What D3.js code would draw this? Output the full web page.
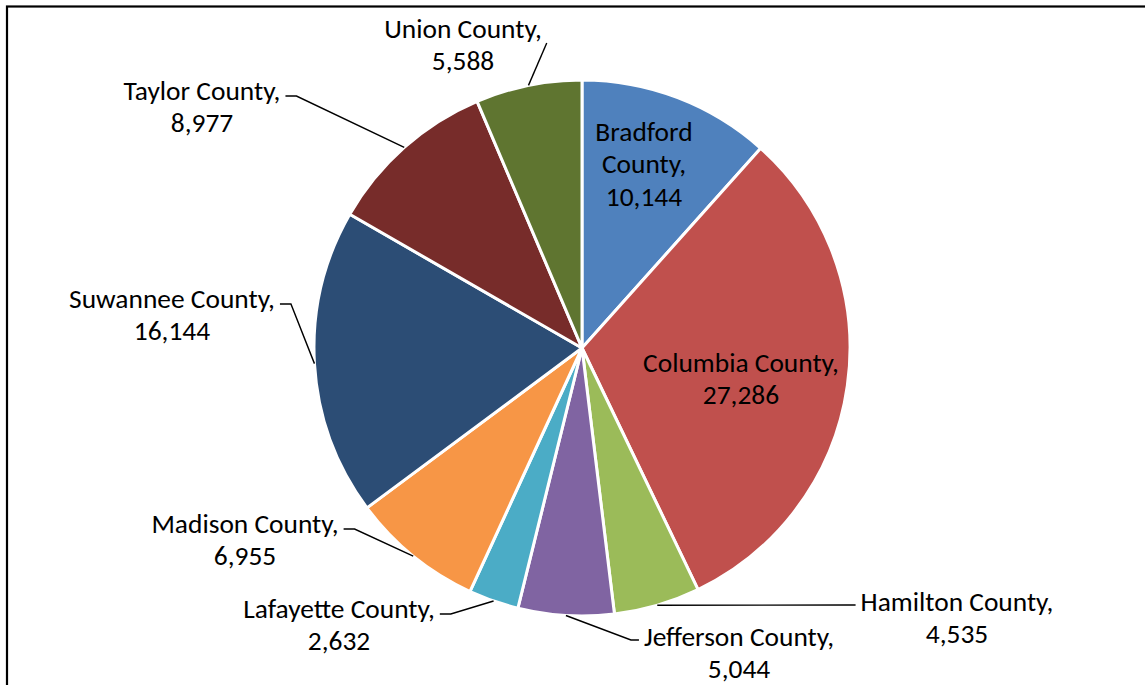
<!DOCTYPE html>
<html>
<head>
<meta charset="utf-8">
<script src="https://cdn.jsdelivr.net/npm/d3@7"></script>
<style>
  html, body { margin: 0; padding: 0; background: #fff; }
  svg { display: block; }
</style>
</head>
<body>
<svg id="chart" width="1145" height="685"></svg>
<script>
// ---- data ----
const counties = ["Bradford County", "Columbia County", "Hamilton County", "Jefferson County",
                  "Lafayette County", "Madison County", "Suwannee County", "Taylor County", "Union County"];
const values = [10144, 27286, 4535, 5044, 2632, 6955, 16144, 8977, 5588];
const colors = ["#4F81BD", "#C0504D", "#9BBB59", "#8064A2", "#4BACC6", "#F79646", "#2C4D75", "#772C2A", "#5F7530"];

// ---- label layout (center x, first-line center y, placement) ----
const labelLines = [
  ["Bradford", "County,", "10,144"],
  ["Columbia County,", "27,286"],
  ["Hamilton County,", "4,535"],
  ["Jefferson County,", "5,044"],
  ["Lafayette County,", "2,632"],
  ["Madison County,", "6,955"],
  ["Suwannee County,", "16,144"],
  ["Taylor County,", "8,977"],
  ["Union County,", "5,588"]
];
const labelPos = [
  [644, 131, "inside"], [741, 362, "inside"], [957, 601, "right"], [739, 636, "right"],
  [339, 608, "left"], [245, 523, "left"], [172, 298, "left"], [202, 90, "left"], [463, 28, "top"]
];

const svg = d3.select("#chart");
const cx = 582, cy = 348, R = 268;
const lineH = 32.5;

// frame
svg.append("rect").attr("x", 7).attr("y", 6.5).attr("width", 1160).attr("height", 700)
  .attr("fill", "none").attr("stroke", "#000").attr("stroke-width", 2.2);

const fontFamily = "Carlito, Calibri, Lato, sans-serif";
// calibrate font size so that text widths match Calibri 20pt
const probe = svg.append("text").attr("font-family", fontFamily).attr("font-size", 26).text("Taylor County,");
const pw = probe.node().getComputedTextLength();
probe.remove();
const fontSize = 26 * 157 / pw;

const pie = d3.pie().sort(null).value(d => d)(values);
const arc = d3.arc().innerRadius(0).outerRadius(R);

const g = svg.append("g").attr("transform", `translate(${cx},${cy})`);
g.selectAll("path.slice").data(pie).enter().append("path")
  .attr("class", "slice")
  .attr("d", arc)
  .attr("fill", (d, i) => colors[i])
  .attr("stroke", "#fff").attr("stroke-width", 3).attr("stroke-linejoin", "round");

// labels
const lab = svg.append("g").attr("font-family", fontFamily).attr("font-size", fontSize).attr("fill", "#000");
pie.forEach((d, i) => {
  const [lx, ly, side] = labelPos[i];
  const t = lab.append("text").attr("text-anchor", "middle");
  labelLines[i].forEach((s, k) => {
    t.append("tspan").attr("x", lx).attr("y", ly + k * lineH).attr("dy", "0.35em").text(s);
  });
  if (side === "inside") return;
  const firstW = t.select("tspan").node().getComputedTextLength();
  const mid = (d.startAngle + d.endAngle) / 2;
  const ax = cx + R * Math.sin(mid), ay = cy - R * Math.cos(mid);
  let pts;
  if (side === "left") {
    const ex = lx + firstW / 2 + 5, ey = ly + 6;
    pts = [[ax, ay], [ex + 11, ey], [ex, ey]];
  } else if (side === "right") {
    const ex = lx - firstW / 2 - 5, ey = ly + 4;
    pts = [[ax, ay], [ex - 8, ey], [ex, ey]];
  } else {
    const ex = lx + firstW / 2 + 5, ey = ly + 15;
    pts = [[ax, ay], [ex, ey]];
  }
  svg.append("path").attr("d", d3.line()(pts)).attr("fill", "none")
    .attr("stroke", "#000").attr("stroke-width", 1.4);
});
</script>
</body>
</html>
